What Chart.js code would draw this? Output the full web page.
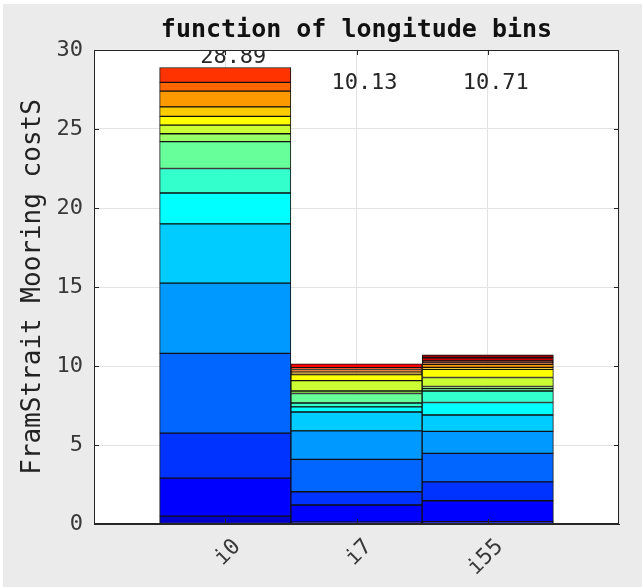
<!DOCTYPE html>
<html lang="en">
<head>
  <meta charset="UTF-8">
  <title>function of longitude bins</title>
  <style>
    html, body { margin: 0; background: #fff; }
    #wrap { position: absolute; left: 3px; top: 4px; width: 639px; height: 583px; }
  </style>
  <script src="https://cdn.jsdelivr.net/npm/chart.js@4/dist/chart.umd.js"></script>
</head>
<body>
  <div id="wrap"><canvas id="costChart"></canvas></div>
  <script>
    const categories = ['i0', 'i7', 'i55'];
    const barTotals = [28.89, 10.13, 10.71];
    // segment heights per bar, bottom to top, one per colour of jet(20)
    const i0Segments  = [0, 0.5, 2.4, 2.85, 5.05, 4.45, 3.75, 1.95, 1.55, 1.7, 0.5, 0.55, 0.55, 0.6, 1.0, 0.55, 0.94, 0, 0, 0];
    const i7Segments  = [0, 0.12, 1.08, 0.84, 2.05, 1.8, 1.2, 0.32, 0.25, 0.6, 0.16, 0.65, 0.38, 0.11, 0.11, 0.11, 0.11, 0.24, 0, 0];
    const i55Segments = [0, 0.15, 1.32, 1.2, 1.8, 1.39, 1.04, 0.79, 0.73, 0.15, 0.13, 0.57, 0.52, 0.12, 0.2, 0.1, 0.09, 0.03, 0.19, 0.19];
    const chartTitle = 'function of longitude bins';

    // matlab's jet colormap
    function jet(m) {
      const n = Math.ceil(m / 4);
      const u = [];
      for (let i = 1; i <= n; i++) u.push(i / n);
      for (let i = 1; i < n; i++) u.push(1);
      for (let i = n; i >= 1; i--) u.push(i / n);
      const g0 = Math.ceil(n / 2) - (m % 4 === 1 ? 1 : 0);
      const rows = Array.from({ length: m }, () => [0, 0, 0]);
      u.forEach((v, k) => {
        const g = g0 + k + 1, r = g + n, b = g - n;
        if (g >= 1 && g <= m) rows[g - 1][1] = v;
        if (r >= 1 && r <= m) rows[r - 1][0] = v;
        if (b >= 1 && b <= m) rows[b - 1][2] = v;
      });
      return rows.map(c => `rgb(${c.map(x => Math.round(x * 255)).join(',')})`);
    }

    const palette = jet(20);
    const perBar = [i0Segments, i7Segments, i55Segments];
    const datasets = palette.map((color, k) => ({
      data: perBar.map((seg, j) => ({ x: j + 1, y: seg[k] })),
      backgroundColor: color,
      borderColor: '#111',
      borderWidth: 1,
      borderSkipped: false,
      barPercentage: 1,
      categoryPercentage: 1
    }));

    const mono = 'DejaVu Sans Mono';
    const axisColor = '#262626';

    const matlabAxes = {
      id: 'matlabAxes',
      beforeDraw(chart) {
        const { ctx, chartArea: a } = chart;
        ctx.save();
        ctx.fillStyle = '#ebebeb';
        ctx.fillRect(0, 0, chart.width, chart.height);
        ctx.fillStyle = '#fff';
        ctx.fillRect(a.left, a.top, a.right - a.left, a.bottom - a.top);
        // title centred over the axes, as matlab does
        ctx.font = `bold 25px "${mono}"`;
        ctx.fillStyle = '#111';
        ctx.textAlign = 'center';
        ctx.textBaseline = 'middle';
        ctx.fillText(chartTitle, (a.left + a.right) / 2, a.top - 20);
        ctx.restore();
      },
      afterDatasetsDraw(chart) {
        const { ctx, chartArea: a, scales: { x, y } } = chart;
        const maxTotal = Math.max(...barTotals);
        ctx.save();
        // value labels, clipped to the axes like matlab text
        ctx.beginPath();
        ctx.rect(a.left, a.top, a.right - a.left, a.bottom - a.top);
        ctx.clip();
        ctx.font = `22px "${mono}"`;
        ctx.fillStyle = axisColor;
        ctx.textAlign = 'center';
        ctx.textBaseline = 'middle';
        barTotals.forEach((t, i) => {
          const v = Math.max(t + 0.65, maxTotal * 0.966);
          ctx.fillText(t.toFixed(2), x.getPixelForValue(i + 1) + 8, y.getPixelForValue(v));
        });
        ctx.restore();

        ctx.save();
        ctx.strokeStyle = axisColor;
        ctx.lineWidth = 1;
        ctx.strokeRect(a.left + 0.5, a.top + 0.5, a.right - a.left - 1, a.bottom - a.top - 1);
        ctx.beginPath();
        y.ticks.forEach(t => {
          const p = Math.round(y.getPixelForValue(t.value)) + 0.5;
          ctx.moveTo(a.left, p); ctx.lineTo(a.left + 5, p);
          ctx.moveTo(a.right, p); ctx.lineTo(a.right - 5, p);
        });
        categories.forEach((c, i) => {
          const p = Math.round(x.getPixelForValue(i + 1)) + 0.5;
          ctx.moveTo(p, a.top); ctx.lineTo(p, a.top + 5);
          ctx.moveTo(p, a.bottom); ctx.lineTo(p, a.bottom - 5);
        });
        ctx.stroke();
        ctx.restore();
      }
    };

    new Chart(document.getElementById('costChart'), {
      type: 'bar',
      data: { datasets },
      plugins: [matlabAxes],
      options: {
        responsive: true,
        maintainAspectRatio: false,
        animation: false,
        layout: { padding: { left: 0, right: 23, top: 46, bottom: 0 } },
        plugins: {
          legend: { display: false },
          tooltip: { enabled: false },
          title: { display: false }
        },
        scales: {
          x: {
            type: 'linear',
            min: 0, max: 4,
            offset: false,
            stacked: true,
            ticks: {
              stepSize: 1,
              autoSkip: false,
              minRotation: 45, maxRotation: 45,
              labelOffset: 12,
              padding: 10,
              color: '#383838',
              font: { family: mono, size: 22 },
              callback: v => categories[v - 1] ?? ''
            },
            grid: { color: '#e3e3e3', drawTicks: false, offset: false },
            border: { color: axisColor },
            afterFit: s => { s.height = 63; s.paddingLeft = 0; s.paddingRight = 0; }
          },
          y: {
            min: 0, max: 30,
            stacked: true,
            ticks: {
              stepSize: 5,
              padding: 11,
              color: '#383838',
              font: { family: mono, size: 22 }
            },
            title: {
              display: true,
              text: 'FramStrait Mooring costS',
              color: '#222',
              font: { family: mono, size: 26 },
              padding: { top: 15, bottom: 0 }
            },
            grid: { color: '#e3e3e3', drawTicks: false },
            border: { color: axisColor },
            afterFit: s => { s.width = 91; }
          }
        }
      }
    });
  </script>
</body>
</html>
